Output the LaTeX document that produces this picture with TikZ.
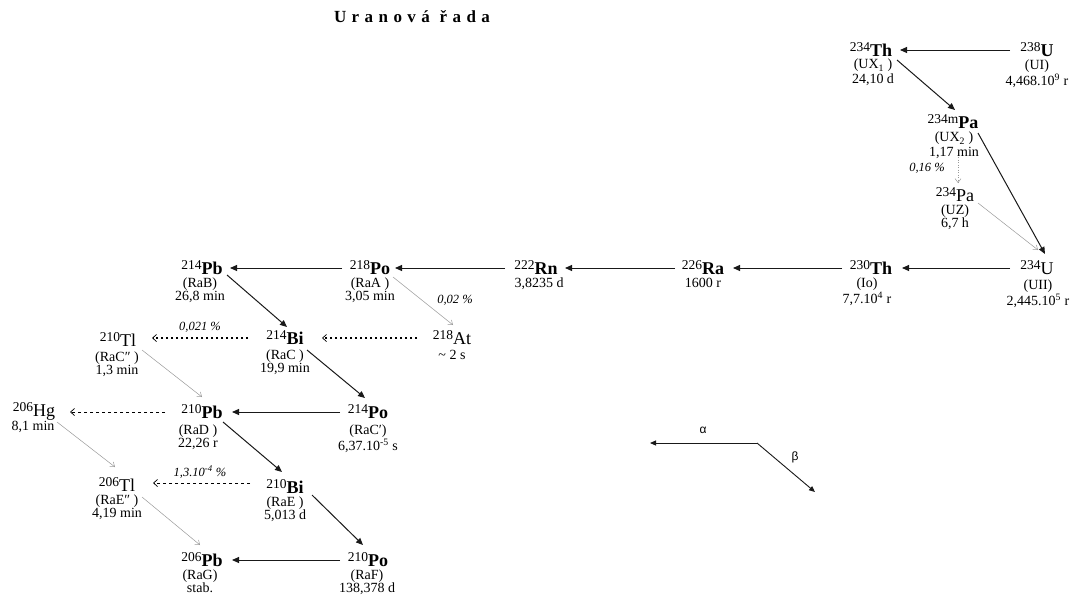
\documentclass[tikz,border=0pt]{standalone}
\usepackage{fontspec}
\setmainfont{Liberation Serif}
\newfontfamily\greekfont{Liberation Sans}
\usetikzlibrary{arrows.meta}

% nuclide symbol with mass number as a raised prefix (mass number in upright medium weight)
\newcommand\nuc[2]{\raisebox{5pt}{\fontsize{13.5}{13.5}\mdseries\selectfont #1}#2}
\newcommand\bnuc[2]{\nuc{#1}{\textbf{#2}}}

\tikzset{
  sym/.style={inner sep=0pt, text height=12pt, text depth=0pt, font=\fontsize{18}{18}\selectfont},
  info/.style={inner sep=0pt, anchor=north, align=center, font=\fontsize{14}{13}\selectfont},
  wideinfo/.style={info, font=\fontsize{14}{15}\selectfont},
  pct/.style={inner sep=0pt, font=\fontsize{12.5}{12.5}\selectfont\itshape},
  decay/.style={draw=black!90, line width=1pt, -{Triangle[length=7pt,width=6pt]}},
  weak/.style={draw=black!40, line width=0.5pt, -{Straight Barb[length=4pt,width=6pt]}},
  weakdot/.style={weak, dash pattern=on 1pt off 1.5pt},
  branch/.style={draw=black, line width=1.6pt, dash pattern=on 1.6pt off 3.4pt,
    -{Straight Barb[length=4pt,width=7pt,line width=0.7pt]}},
  minor/.style={draw=black, line width=0.7pt, dash pattern=on 3pt off 3pt,
    -{Straight Barb[length=4pt,width=7pt,line width=0.7pt]}},
  legend/.style={draw=black!90, line width=0.9pt, -{Triangle[length=6pt,width=5pt]}},
}

\begin{document}
\begin{tikzpicture}[x=1pt,y=-1pt]
\useasboundingbox (0,0) rectangle (1074,598);

% title
\node[inner sep=0pt, font=\fontsize{17}{17}\selectfont\bfseries\addfontfeatures{LetterSpace=32}]
  (title) at (412,17) {Uranová řada};

% nuclides
\node[sym] (u238)   at (1037,50)  {\bnuc{238}{U}};
\node[sym] (th234)  at (871,50)   {\bnuc{234}{Th}};
\node[sym] (pa234m) at (953,122)  {\bnuc{234m}{Pa}};
\node[sym] (pa234)  at (955,195)  {\nuc{234}{Pa}};
\node[sym] (u234)   at (1037,268) {\nuc{234}{U}};
\node[sym] (th230)  at (871,268)  {\bnuc{230}{Th}};
\node[sym] (ra226)  at (703,268)  {\bnuc{226}{Ra}};
\node[sym] (rn222)  at (536,268)  {\bnuc{222}{Rn}};
\node[sym] (po218)  at (370,268)  {\bnuc{218}{Po}};
\node[sym] (pb214)  at (202,268)  {\bnuc{214}{Pb}};
\node[sym] (at218)  at (452,338)  {\nuc{218}{At}};
\node[sym] (bi214)  at (285,338)  {\bnuc{214}{Bi}};
\node[sym] (tl210)  at (118,340)  {\nuc{210}{Tl}};
\node[sym] (po214)  at (368,412)  {\bnuc{214}{Po}};
\node[sym] (pb210)  at (202,412)  {\bnuc{210}{Pb}};
\node[sym] (hg206)  at (34,410)   {\nuc{206}{Hg}};
\node[sym] (bi210)  at (285,487)  {\bnuc{210}{Bi}};
\node[sym] (tl206)  at (117,485)  {\nuc{206}{Tl}};
\node[sym] (po210)  at (368,560)  {\bnuc{210}{Po}};
\node[sym] (pb206)  at (202,560)  {\bnuc{206}{Pb}};

% historical names and half-lives
\node[info] (u238i)   at (1037,60)  {(UI)\\4,468.10\textsuperscript{9} r};
\node[wideinfo] (th234i)  at (873,59)   {(UX\textsubscript{1} )\\24,10 d};
\node[wideinfo] (pa234mi) at (954,132)  {(UX\textsubscript{2} )\\1,17 min};
\node[info] (pa234i)  at (955,205)  {(UZ)\\6,7 h};
\node[info] (u234i)   at (1038,280) {(UII)\\2,445.10\textsuperscript{5} r};
\node[info] (th230i)  at (867,278)  {(Io)\\7,7.10\textsuperscript{4} r};
\node[info] (ra226i)  at (703,278)  {1600 r};
\node[info] (rn222i)  at (539,278)  {3,8235 d};
\node[info] (po218i)  at (370,278)  {(RaA )\\3,05 min};
\node[info] (pb214i)  at (200,278)  {(RaB)\\26,8 min};
\node[info] (at218i)  at (452,350)  {\textasciitilde\ 2 s};
\node[info] (bi214i)  at (285,350)  {(RaC )\\19,9 min};
\node[info] (tl210i)  at (117,352)  {(RaC″ )\\1,3 min};
\node[info] (po214i)  at (368,425)  {(RaC′)\\6,37.10\textsuperscript{-5} s};
\node[info] (pb210i)  at (198,425)  {(RaD )\\22,26 r};
\node[info] (hg206i)  at (33,421)   {8,1 min};
\node[info] (bi210i)  at (285,497)  {(RaE )\\5,013 d};
\node[info] (tl206i)  at (117,495)  {(RaE″ )\\4,19 min};
\node[info] (po210i)  at (367,570)  {(RaF)\\138,378 d};
\node[info] (pb206i)  at (200,570)  {(RaG)\\stab.};

% branching ratios
\node[pct] (b1) at (927,168) {0,16 \%};
\node[pct] (b2) at (455,300) {0,02 \%};
\node[pct] (b3) at (200,327) {0,021 \%};
\node[pct] (b4) at (200,472) {1,3.10\textsuperscript{-4} \%};

% main decay path
\draw[decay] ([shift={(-27,0)}]u238.center)  -- ([shift={(29,0)}]th234.center);
\draw[decay] ([shift={(26,10)}]th234.center) -- ([shift={(2,-12)}]pa234m.center);
\draw[decay] ([shift={(25,11)}]pa234m.center) -- ([shift={(8,-14)}]u234.center);
\draw[decay] ([shift={(-27,0)}]u234.center)  -- ([shift={(31,0)}]th230.center);
\draw[decay] ([shift={(-29,0)}]th230.center) -- ([shift={(30,0)}]ra226.center);
\draw[decay] ([shift={(-28,0)}]ra226.center) -- ([shift={(29,0)}]rn222.center);
\draw[decay] ([shift={(-31,0)}]rn222.center) -- ([shift={(25,0)}]po218.center);
\draw[decay] ([shift={(-28,0)}]po218.center) -- ([shift={(28,0)}]pb214.center);
\draw[decay] ([shift={(25,7)}]pb214.center)  -- ([shift={(2,-11)}]bi214.center);
\draw[decay] ([shift={(22,12)}]bi214.center) -- ([shift={(-3,-14)}]po214.center);
\draw[decay] ([shift={(-28,0)}]po214.center) -- ([shift={(30,0)}]pb210.center);
\draw[decay] ([shift={(21,10)}]pb210.center) -- ([shift={(-3,-15)}]bi210.center);
\draw[decay] ([shift={(27,8)}]bi210.center)  -- ([shift={(-5,-15)}]po210.center);
\draw[decay] ([shift={(-28,0)}]po210.center) -- ([shift={(30,0)}]pb206.center);

% side branches
\draw[weakdot] ([shift={(5,35)}]pa234m.center) -- ([shift={(3,-12)}]pa234.center);
\draw[weak] ([shift={(23,8)}]pa234.center)  -- ([shift={(1,-18)}]u234.center);
\draw[weak] ([shift={(23,9)}]po218.center)  -- ([shift={(1,-13)}]at218.center);
\draw[weak] ([shift={(24,10)}]tl210.center) -- ([shift={(0,-15)}]pb210.center);
\draw[weak] ([shift={(23,12)}]hg206.center) -- ([shift={(-2,-18)}]tl206.center);
\draw[weak] ([shift={(25,12)}]tl206.center) -- ([shift={(-2,-15)}]pb206.center);

\draw[branch] ([shift={(-35,0)}]at218.center) -- ([shift={(37,0)}]bi214.center);
\draw[branch] ([shift={(-37,0)}]bi214.center) -- ([shift={(34,-2)}]tl210.center);
\draw[minor] ([shift={(-37,0)}]pb210.center) -- ([shift={(36,2)}]hg206.center);
\draw[minor] ([shift={(-35,-4)}]bi210.center) -- ([shift={(36,-2)}]tl206.center);

% key
\coordinate (lg) at (757,443);
\coordinate (la) at (650,443);
\coordinate (lb) at (815,492);
\draw[legend] (lg) -- (la);
\draw[legend] (lg) -- (lb);
\node[inner sep=0pt, font=\greekfont\fontsize{12}{12}\selectfont] (alab) at (703,430) {α};
\node[inner sep=0pt, font=\greekfont\fontsize{12}{12}\selectfont] (blab) at (795,457) {β};
\end{tikzpicture}
\end{document}
